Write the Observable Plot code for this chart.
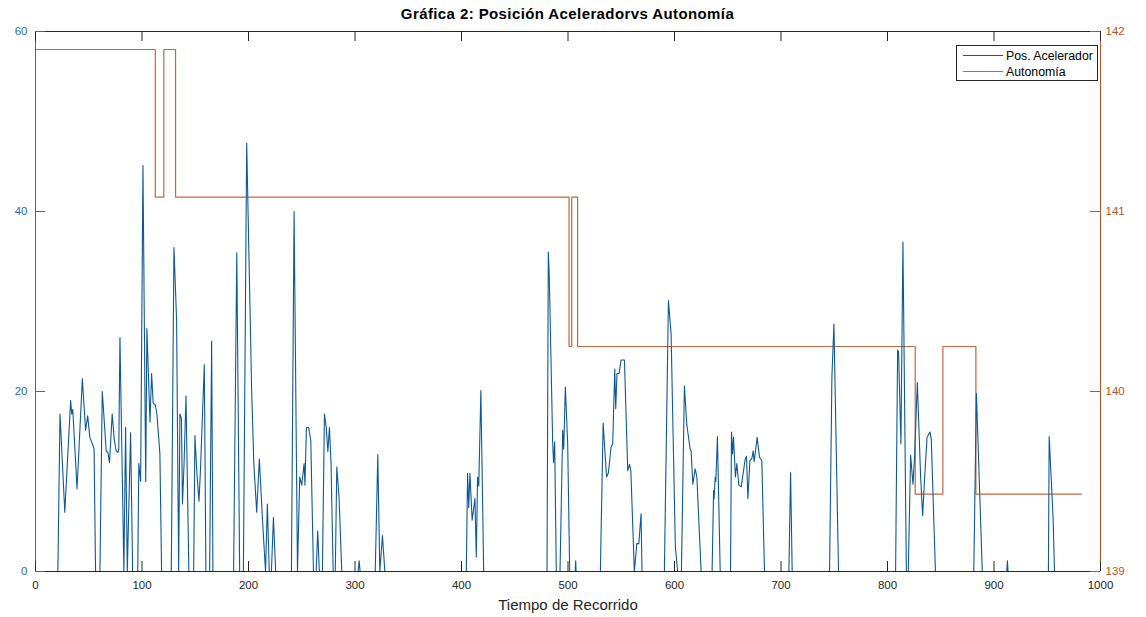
<!DOCTYPE html>
<html>
<head>
<meta charset="utf-8">
<script src="https://cdn.jsdelivr.net/npm/d3@7"></script>
<script src="https://cdn.jsdelivr.net/npm/@observablehq/plot@0.6"></script>
<style>
  html, body { margin: 0; padding: 0; background: #fff; }
  #wrap { position: relative; width: 1146px; height: 617px; font-family: "Liberation Sans", Arial, Helvetica, sans-serif; }
  #title { position: absolute; left: 35px; width: 1065px; top: 5px; text-align: center; font-weight: bold; font-size: 15px; letter-spacing: 0.4px; color: #000; }
  #legend { position: absolute; left: 956px; top: 45px; width: 142px; height: 36px; border: 1px solid #262626; background: #fff; box-sizing: border-box; font-size: 12.3px; color: #000; }
  #legend .row { position: absolute; left: 6px; height: 14px; line-height: 14px; white-space: nowrap; }
  #legend .sw { display: inline-block; width: 40px; height: 0; vertical-align: middle; margin-right: 3px; position: relative; top: -1px; }
</style>
</head>
<body>
<div id="wrap">
  <div id="chart"></div>
  <div id="title">Gráfica 2: Posición Aceleradorvs Autonomía</div>
  <div id="legend"></div>
</div>
<script>
// ---------- data ----------
const seriesNames = ["Pos. Acelerador", "Autonomía"];

// Pos. Acelerador (left axis): time (s) and accelerator position
const tiempoAcel = [
  0, 21, 23, 27.5, 33, 34, 35, 39, 44, 47, 49, 51, 54, 55, 56.4, 60.5, 62.7, 66.4, 68, 69.5,
  72, 74, 75.8, 77.5, 78.2, 79.3, 83, 84.6, 86.2, 89.3, 91.2, 96, 97, 98.7, 100.9, 103.5, 104.6, 107.5, 109, 110.5,
  112.5, 114, 116.8, 118.4, 127.5, 130, 132.5, 134.4, 135.6, 137, 138, 139.5, 141.3, 144, 148.5, 149.7, 151.5, 153.5, 155, 158.5,
  160, 163.5, 165.4, 166.6, 186, 189, 191.7, 195.2, 198.3, 203, 205, 207.7, 210.2, 213, 216, 217.7, 219.5, 221.5, 223.4, 225.5,
  240.3, 242.8, 246, 248.1, 250, 252.2, 253, 254.4, 256.5, 258.5, 261, 263.5, 265, 266.5, 269.4, 271.3, 273, 274.5, 276, 277.5,
  279.5, 281.5, 282.9, 285, 287.6, 303, 303.9, 304.8, 319, 321.4, 323.3, 325.8, 328, 404.5, 405.7, 406.8, 407.9, 410, 412.6, 413.9,
  415.1, 416.2, 418.2, 420.8, 480.3, 481.5, 482.4, 485.6, 486.4, 487.5, 489, 492.5, 495, 496, 497.5, 499.7, 501.6, 506.8, 507.2, 507.6,
  530.4, 533, 536.2, 538, 540.4, 542, 543.9, 544.8, 546, 548, 549.8, 553, 556.1, 557.8, 559, 562.3, 564.6, 566.5, 568.6, 569.5,
  590.5, 594.3, 596.8, 600.8, 603, 606.5, 609.3, 611.5, 612.5, 614.7, 615.6, 617.2, 619.4, 621, 625, 635.3, 636.7, 637.2, 638.2, 638.8,
  640.3, 642.9, 652.6, 653.5, 654.5, 655.4, 657.2, 658.5, 660.4, 662.6, 666.4, 667.6, 668.9, 670.8, 672.7, 673.9, 674.8, 677.6, 679.8, 682,
  684.5, 707.4, 709, 710.5, 745.6, 747.8, 749.7, 754, 807.6, 809.5, 810.4, 812.6, 814.5, 817.7, 819.5, 821.7, 823.9, 825.4, 828, 831.1,
  833, 834.9, 837.1, 839.9, 841.1, 845, 881, 883.5, 889, 912, 912.6, 913.2, 951.1, 951.8, 955.5, 956.8, 982
];
const posAcelerador = [
  0, 0, 17.5, 6.6, 19, 17.5, 18, 9.2, 21.4, 15.7, 17.3, 14.9, 14, 13.6, 0, 0, 20, 13.4, 13.2, 12.1,
  17.5, 14.6, 13.4, 13.2, 13.6, 26, 0, 16, 0, 15.4, 0, 0, 12, 10, 45.1, 10, 27, 16.6, 22, 18.7,
  18.5, 17.5, 13.1, 0, 0, 36, 27.9, 0, 17.5, 17, 7.5, 12, 19.5, 0, 0, 15.1, 11, 7.8, 11.6, 23,
  0, 0, 25.6, 0, 0, 35.4, 0, 0, 47.6, 19.9, 12, 6.6, 12.5, 6, 0, 7.5, 0, 0, 6, 0,
  0, 40, 0, 10.5, 9.6, 12, 9.6, 16, 16, 14.5, 0, 0, 4.5, 0, 0, 17.5, 16, 13.3, 16, 12,
  0, 0, 11.6, 8.3, 0, 0, 1.2, 0, 0, 13, 0, 4, 0, 0, 10.9, 7.1, 10.9, 5.7, 8.1, 1.6,
  10.5, 9.5, 20.1, 0, 0, 35.5, 32.9, 14.4, 12.1, 14.4, 0, 0, 15.7, 13.6, 20.5, 14.2, 0, 0, 1.2, 0,
  0, 16.5, 10.5, 11, 13.8, 14.2, 22.5, 18.1, 22, 22, 23.5, 23.5, 11.2, 11.9, 11.2, 0, 3.1, 3.1, 6.4, 0,
  0, 30.1, 26.4, 2.7, 0, 0, 20.6, 16.4, 15.5, 13.6, 13.4, 9.7, 11.4, 10.5, 0, 0, 9, 8.1, 10.5, 10,
  15, 0, 0, 15.5, 13.1, 14.9, 10.5, 12, 9.6, 9.4, 12.5, 12.8, 8.1, 12.3, 12.6, 13.4, 12.2, 14.9, 12.7, 12.3,
  0, 0, 11, 0, 0, 21.6, 27.5, 0, 0, 24.6, 24.4, 14.2, 36.6, 0, 0, 12.9, 9.7, 12.7, 21, 10.5,
  6.2, 10.5, 14.9, 15.5, 14.7, 0, 0, 19.8, 0, 0, 1.2, 0, 0, 15, 5.9, 0, 0
];

// Autonomía (right axis): step changes
const tiempoAuto = [0, 112.5, 120.5, 131.5, 501, 503.5, 509, 826, 852, 883, 982];
const autonomia  = [141.9, 141.08, 141.9, 141.08, 140.25, 141.08, 140.25, 139.43, 140.25, 139.43, 139.43];

// axes
const xTicks = [0, 100, 200, 300, 400, 500, 600, 700, 800, 900, 1000];
const leftTicks = [0, 20, 40, 60];
const rightTicks = [139, 140, 141, 142];

// ---------- build ----------
const blue = "#0f5a96";
const orange = "#c4673f";
const leftColor = "#2f6fa3";
const rightColor = "#b9532a";
const dark = "#262626";

const leftMin = 0, leftMax = 60, rightMin = 139, rightMax = 142;
const toLeft = a => leftMin + (a - rightMin) * (leftMax - leftMin) / (rightMax - rightMin);

const acelRows = tiempoAcel.map((t, i) => ({t, v: posAcelerador[i]}));
const autoRows = tiempoAuto.map((t, i) => ({t, y: toLeft(autonomia[i])}));
const rightTickRows = rightTicks.map(r => ({pos: toLeft(r), label: String(r)}));

const W = 1146, H = 617, mT = 31, mB = 46, mL = 35, mR = 46;
const fw = W - mL - mR, fh = H - mT - mB, tick = 10;

const chart = Plot.plot({
  width: W, height: H,
  marginTop: mT, marginBottom: mB, marginLeft: mL, marginRight: mR,
  style: {fontFamily: '"Liberation Sans", Arial, Helvetica, sans-serif', fontSize: "11.5px", background: "#fff", color: dark},
  x: {domain: [0, 1000], label: null},
  y: {domain: [leftMin, leftMax], label: null},
  marks: [
    Plot.line(autoRows, {x: "t", y: "y", curve: "step-after", stroke: orange, strokeWidth: 1.2}),
    Plot.line(acelRows, {x: "t", y: "v", stroke: blue, strokeWidth: 1.1, strokeLinejoin: "round"}),
    // frame edges
    Plot.ruleY([leftMin], {stroke: dark, strokeWidth: 1}),
    Plot.ruleY([leftMax], {stroke: dark, strokeWidth: 1}),
    Plot.ruleX([0], {stroke: leftColor, strokeWidth: 1}),
    Plot.ruleX([1000], {stroke: rightColor, strokeWidth: 1}),
    // inward ticks
    Plot.ruleX(xTicks, {stroke: dark, insetTop: fh - tick}),
    Plot.ruleX(xTicks, {stroke: dark, insetBottom: fh - tick}),
    Plot.ruleY(leftTicks, {stroke: leftColor, insetRight: fw - tick}),
    Plot.ruleY(rightTickRows, {y: "pos", stroke: rightColor, insetLeft: fw - tick}),
    // tick labels
    Plot.axisX(xTicks, {tickSize: 0, tickPadding: 9, fill: dark, label: null, tickFormat: d => String(d)}),
    Plot.axisY(leftTicks, {anchor: "left", tickSize: 0, tickPadding: 8, fill: leftColor, label: null, tickFormat: d => String(d)}),
    Plot.axisY(rightTickRows.map(d => d.pos), {anchor: "right", tickSize: 0, tickPadding: 5, fill: rightColor, label: null,
      tickFormat: p => rightTickRows.find(d => d.pos === p).label}),
    // x label
    Plot.text(["Tiempo de Recorrido"], {frameAnchor: "bottom", dy: 38, fontSize: 15, fill: dark, style: "letter-spacing:0.3px"})
  ]
});
document.getElementById("chart").appendChild(chart);

// legend
const legend = document.getElementById("legend");
[[seriesNames[0], blue, 3], [seriesNames[1], orange, 19]].forEach(([name, col, top]) => {
  const row = document.createElement("div");
  row.className = "row";
  row.style.top = top + "px";
  const sw = document.createElement("span");
  sw.className = "sw";
  sw.style.borderTop = "1.2px solid " + col;
  row.appendChild(sw);
  row.appendChild(document.createTextNode(name));
  legend.appendChild(row);
});
</script>
</body>
</html>
